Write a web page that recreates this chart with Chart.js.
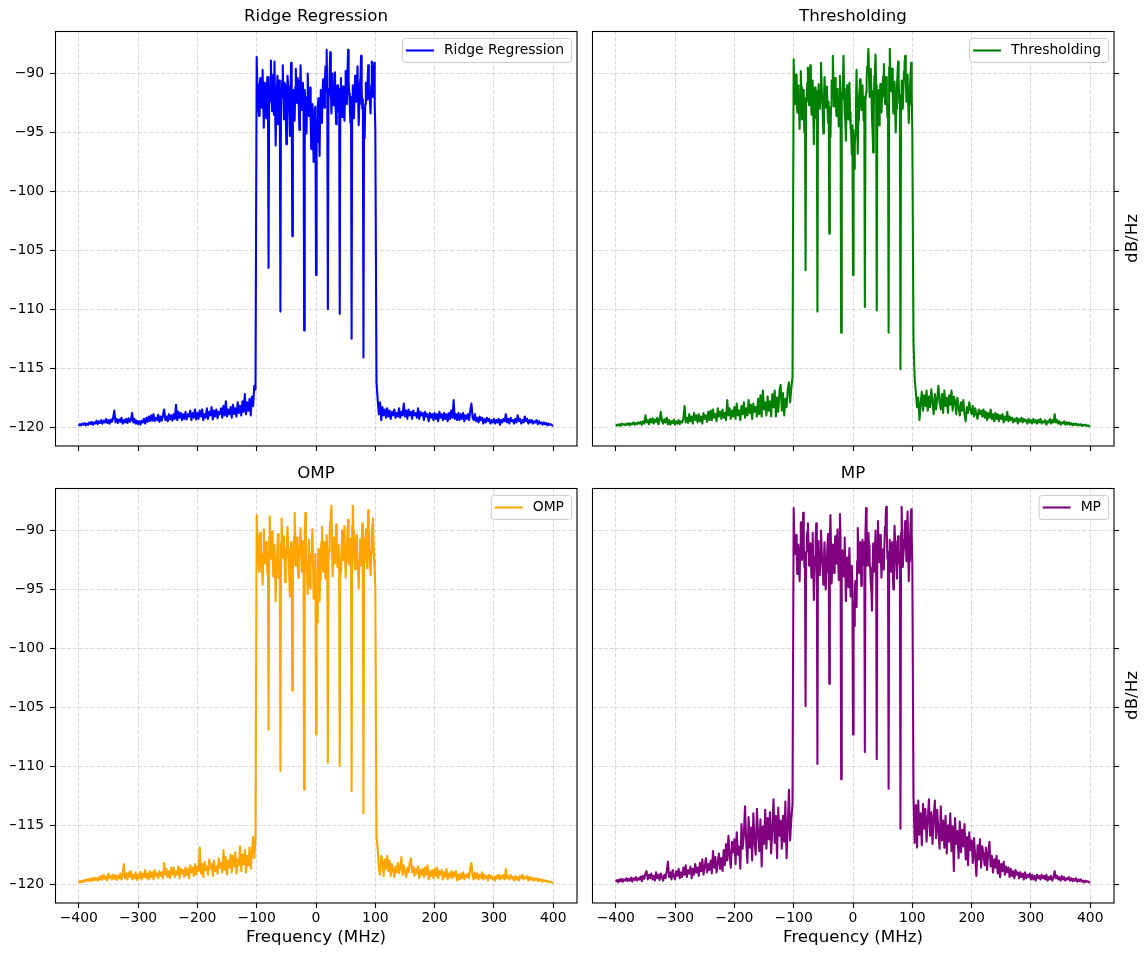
<!DOCTYPE html>
<html><head><meta charset="utf-8">
<script src="https://cdn.jsdelivr.net/npm/chart.js@4.4.1/dist/chart.umd.min.js"></script>
<style>
html,body{margin:0;padding:0;background:#fff;}
#wrap{position:relative;width:1148px;height:956px;overflow:hidden;background:#fff;}
#wrap canvas{position:absolute;left:0;top:0;pointer-events:none;}
</style></head><body>
<div id="wrap">
<canvas id="c0" width="1148" height="956"></canvas>
<canvas id="c1" width="1148" height="956"></canvas>
<canvas id="c2" width="1148" height="956"></canvas>
<canvas id="c3" width="1148" height="956"></canvas>
</div>
<script>
// ---------------- data ----------------
const freqMHz = [
-400,-398,-396,-394,-392,-390,-388,-386,-384,-382,
-380,-378,-376,-374,-372,-370,-368,-366,-364,-362,
-360,-358,-356,-354,-352,-350,-348,-346,-344,-342,
-340,-338,-336,-334,-332,-330,-328,-326,-324,-322,
-320,-318,-316,-314,-312,-310,-308,-306,-304,-302,
-300,-298,-296,-294,-292,-290,-288,-286,-284,-282,
-280,-278,-276,-274,-272,-270,-268,-266,-264,-262,
-260,-258,-256,-254,-252,-250,-248,-246,-244,-242,
-240,-238,-236,-234,-232,-230,-228,-226,-224,-222,
-220,-218,-216,-214,-212,-210,-208,-206,-204,-202,
-200,-198,-196,-194,-192,-190,-188,-186,-184,-182,
-180,-178,-176,-174,-172,-170,-168,-166,-164,-162,
-160,-158,-156,-154,-152,-150,-148,-146,-144,-142,
-140,-138,-136,-134,-132,-130,-128,-126,-124,-122,
-120,-118,-116,-114,-112,-110,-108,-106,-104,-102,
-100,-99,-98,-97,-96,-95,-94,-93,-92,-91,-90,-89,-88,-87,-86,-85,-84,-83,-82,-81,
-80,-79,-78,-77,-76,-75,-74,-73,-72,-71,-70,-69,-68,-67,-66,-65,-64,-63,-62,-61,
-60,-59,-58,-57,-56,-55,-54,-53,-52,-51,-50,-49,-48,-47,-46,-45,-44,-43,-42,-41,
-40,-39,-38,-37,-36,-35,-34,-33,-32,-31,-30,-29,-28,-27,-26,-25,-24,-23,-22,-21,
-20,-19,-18,-17,-16,-15,-14,-13,-12,-11,-10,-9,-8,-7,-6,-5,-4,-3,-2,-1,
0,1,2,3,4,5,6,7,8,9,10,11,12,13,14,15,16,17,18,19,
20,21,22,23,24,25,26,27,28,29,30,31,32,33,34,35,36,37,38,39,
40,41,42,43,44,45,46,47,48,49,50,51,52,53,54,55,56,57,58,59,
60,61,62,63,64,65,66,67,68,69,70,71,72,73,74,75,76,77,78,79,
80,81,82,83,84,85,86,87,88,89,90,91,92,93,94,95,96,97,98,99,
100,
102,104,106,108,110,112,114,116,118,120,
122,124,126,128,130,132,134,136,138,140,
142,144,146,148,150,152,154,156,158,160,
162,164,166,168,170,172,174,176,178,180,
182,184,186,188,190,192,194,196,198,200,
202,204,206,208,210,212,214,216,218,220,
222,224,226,228,230,232,234,236,238,240,
242,244,246,248,250,252,254,256,258,260,
262,264,266,268,270,272,274,276,278,280,
282,284,286,288,290,292,294,296,298,300,
302,304,306,308,310,312,314,316,318,320,
322,324,326,328,330,332,334,336,338,340,
342,344,346,348,350,352,354,356,358,360,
362,364,366,368,370,372,374,376,378,380,
382,384,386,388,390,392,394,396,398,400
];

const ridgeDb = [
-119.9,-119.75,-119.85,-119.7,-119.8,-119.65,-119.85,-119.7,-119.8,-119.6,
-119.75,-119.55,-119.8,-119.6,-119.7,-119.45,-119.75,-119.5,-119.65,-119.4,
-119.7,-119.45,-119.6,-119.3,-119.65,-119.4,-119.7,-119.35,-119.55,-119.2,
-118.6,-119.6,-119.3,-119.65,-119.35,-119.55,-119.2,-119.7,-119.4,-119.6,
-119.3,-119.65,-119.25,-119.55,-119.4,-118.8,-119.6,-119.3,-119.7,-119.45,
-119.75,-119.5,-119.8,-119.45,-119.6,-119.3,-119.7,-119.2,-119.55,-119.1,
-119.5,-119.0,-119.45,-118.9,-119.5,-119.2,-119.4,-118.95,-119.55,-119.1,
-119.45,-119.0,-118.5,-119.4,-119.1,-119.5,-118.9,-119.35,-119.0,-119.45,
-118.9,-119.3,-118.1,-119.4,-118.7,-119.2,-118.8,-119.4,-118.9,-119.3,
-118.7,-119.35,-118.9,-119.1,-118.6,-119.4,-118.8,-119.2,-118.5,-119.35,
-118.8,-119.3,-118.6,-119.1,-118.5,-119.4,-118.9,-119.2,-118.4,-119.3,
-118.7,-119.0,-118.3,-119.35,-118.6,-119.1,-118.5,-119.25,-118.7,-118.9,
-118.4,-119.2,-118.2,-119.0,-117.8,-119.1,-118.5,-118.9,-118.3,-119.2,
-118.1,-118.9,-118.4,-119.1,-117.9,-118.8,-118.2,-119.0,-117.8,-118.7,
-117.2,-118.9,-117.9,-118.6,-117.6,-119.0,-117.4,-118.2,-116.5,-116.8,
-88.6,-90.9,-91.8,-93.0,-93.6,-91.1,-90.4,-92.0,-92.9,-90.6,-89.7,-92.4,-94.6,-90.8,-91.2,-92.5,-93.8,-91.6,-90.3,-92.2,
-106.5,-91.0,-92.4,-90.3,-88.9,-92.1,-93.2,-91.3,-90.1,-93.5,-89.0,-92.6,-96.1,-93.0,-91.5,-90.2,-94.3,-92.7,-90.6,-91.4,
-110.2,-91.7,-92.0,-90.6,-89.3,-92.2,-93.9,-90.8,-91.0,-93.4,-96.0,-92.3,-90.2,-91.1,-92.8,-93.6,-95.3,-91.5,-89.1,-92.0,
-103.8,-92.6,-91.4,-93.1,-94.0,-91.2,-89.6,-92.3,-92.5,-90.4,-90.7,-92.9,-94.8,-91.6,-89.3,-92.0,-93.1,-90.8,-90.9,-92.5,
-111.8,-91.4,-92.3,-93.5,-95.1,-92.0,-90.0,-91.8,-93.6,-92.4,-91.2,-94.0,-96.4,-93.2,-92.6,-95.0,-97.5,-94.1,-93.0,-92.8,
-107.1,-93.9,-95.8,-93.0,-92.1,-94.6,-97.0,-93.3,-91.4,-92.7,-94.2,-91.6,-90.5,-92.2,-92.9,-90.7,-89.4,-91.5,-88.0,-91.9,
-110.0,-92.2,-91.3,-90.0,-88.2,-91.5,-93.4,-91.8,-90.0,-92.6,-92.7,-90.9,-89.9,-92.8,-94.3,-92.1,-91.0,-92.4,-93.2,-91.3,
-110.4,-91.9,-90.4,-92.5,-93.7,-91.6,-91.1,-92.9,-94.0,-91.4,-89.8,-91.9,-92.6,-90.3,-88.0,-90.6,-91.7,-92.8,-94.2,-92.0,
-112.5,-92.3,-91.0,-92.4,-93.8,-91.7,-90.2,-92.0,-92.4,-90.8,-89.4,-92.1,-94.4,-92.6,-90.9,-90.4,-88.5,-91.2,-93.0,-92.2,
-114.1,-93.0,-95.5,-92.6,-90.8,-92.0,-92.2,-90.6,-89.3,-91.8,-91.6,-92.4,-93.4,-91.0,-89.0,-91.2,-92.0,-90.5,-89.1,-92.7,
-94.7,
-116.2,-117.7,-118.9,-117.9,-119.4,-118.3,-119.0,-118.5,-119.2,-118.4,
-119.1,-118.6,-119.3,-118.7,-119.0,-118.5,-119.2,-118.8,-119.1,-118.4,
-119.2,-118.7,-119.0,-118.0,-119.1,-118.6,-119.3,-118.5,-119.0,-118.7,
-119.3,-118.6,-119.0,-118.8,-119.2,-118.4,-119.3,-118.7,-119.0,-118.8,
-119.4,-118.7,-119.1,-118.9,-119.5,-118.8,-119.2,-118.9,-119.4,-118.8,
-119.3,-118.9,-119.5,-118.7,-119.2,-118.9,-119.4,-118.8,-119.3,-118.9,
-119.5,-118.8,-119.3,-118.6,-119.2,-117.7,-119.3,-118.9,-119.4,-118.8,
-119.4,-118.9,-119.3,-118.8,-119.5,-119.0,-119.3,-118.9,-119.4,-118.6,
-118.0,-119.2,-119.4,-118.9,-119.5,-119.2,-119.6,-119.1,-119.4,-119.2,
-119.7,-119.3,-119.6,-119.2,-119.5,-119.3,-119.7,-119.4,-119.6,-119.3,
-119.7,-119.4,-119.6,-119.3,-119.8,-119.4,-119.6,-119.3,-119.5,-118.9,
-119.6,-119.3,-119.7,-119.2,-119.5,-119.4,-119.7,-119.3,-119.6,-119.0,
-119.5,-119.3,-119.7,-119.4,-119.6,-119.1,-119.5,-119.3,-119.7,-119.4,
-119.6,-119.4,-119.7,-119.5,-119.6,-119.4,-119.75,-119.5,-119.7,-119.6,
-119.8,-119.6,-119.75,-119.65,-119.85,-119.7,-119.8,-119.75,-119.85,-119.9
];

const thresholdingDb = [
-119.9,-119.8,-119.85,-119.75,-119.9,-119.7,-119.8,-119.75,-119.85,-119.7,
-119.8,-119.65,-119.85,-119.7,-119.75,-119.6,-119.8,-119.65,-119.75,-119.6,
-119.7,-119.55,-119.8,-119.5,-119.7,-119.0,-119.6,-119.4,-119.75,-119.3,
-119.6,-119.25,-119.7,-119.35,-119.55,-119.2,-119.75,-119.4,-118.7,-119.5,
-119.7,-119.3,-119.6,-119.2,-119.75,-119.4,-119.8,-119.5,-119.65,-119.35,
-119.8,-119.5,-119.7,-119.4,-119.75,-119.5,-119.6,-119.3,-118.2,-119.6,
-119.2,-119.65,-118.9,-119.5,-119.1,-119.7,-118.8,-119.4,-119.0,-119.6,
-118.9,-119.5,-119.1,-119.7,-118.8,-119.3,-119.0,-119.55,-118.7,-119.4,
-118.6,-119.4,-118.5,-119.2,-118.9,-119.5,-118.4,-119.1,-118.7,-119.3,
-118.5,-119.2,-118.8,-119.4,-117.7,-119.0,-118.4,-119.3,-118.6,-119.1,
-118.3,-119.3,-118.0,-119.0,-118.6,-119.4,-118.2,-118.9,-117.9,-119.2,
-118.4,-119.0,-117.7,-118.8,-118.1,-119.3,-118.0,-118.7,-118.3,-119.1,
-117.6,-118.9,-117.3,-119.1,-116.9,-118.5,-117.9,-119.0,-117.4,-118.6,
-117.8,-119.1,-117.2,-118.3,-116.9,-119.1,-117.5,-118.7,-117.0,-116.4,
-118.6,-117.1,-119.0,-117.6,-118.3,-116.8,-116.2,-117.9,-116.7,-115.8,
-88.8,-91.5,-92.6,-91.0,-90.1,-92.2,-93.3,-91.6,-91.0,-92.8,-94.7,-92.0,-89.8,-91.2,-93.9,-92.4,-91.4,-93.0,-95.0,-92.1,
-106.7,-92.4,-91.8,-90.8,-89.5,-91.6,-92.7,-90.9,-89.3,-91.9,-93.5,-92.2,-90.6,-93.4,-96.0,-92.5,-91.2,-92.0,-93.8,-91.5,
-110.2,-92.0,-90.9,-92.3,-93.0,-91.4,-89.1,-90.7,-92.4,-93.3,-95.1,-92.6,-90.3,-91.8,-92.9,-91.7,-91.1,-92.9,-94.2,-92.4,
-103.6,-93.0,-95.4,-92.8,-90.6,-91.9,-88.5,-90.6,-92.8,-91.4,-90.4,-92.3,-93.6,-92.1,-91.3,-93.0,-94.5,-92.2,-90.2,-91.6,
-112.0,-91.7,-92.1,-90.6,-88.5,-91.3,-93.4,-94.0,-95.7,-93.2,-91.0,-92.6,-93.9,-92.1,-90.8,-93.3,-94.6,-95.2,-96.9,-94.4,
-107.1,-94.8,-98.1,-96.0,-95.2,-92.6,-89.7,-93.1,-96.8,-94.0,-92.3,-91.4,-90.5,-92.2,-93.1,-91.9,-91.0,-92.6,-94.0,-92.0,
-109.8,-92.3,-91.6,-90.5,-89.4,-88.8,-87.9,-90.1,-92.0,-91.2,-89.6,-91.5,-93.8,-94.9,-96.7,-93.4,-90.2,-89.6,-88.4,-91.0,
-110.1,-91.4,-92.2,-93.0,-94.4,-92.4,-90.9,-91.8,-93.3,-92.0,-91.0,-90.2,-89.2,-90.9,-92.6,-91.6,-90.3,-92.1,-93.7,-92.7,
-112.0,-89.5,-87.9,-89.8,-91.5,-90.3,-89.6,-91.7,-93.4,-92.1,-90.7,-92.8,-95.0,-93.0,-91.2,-90.1,-89.0,-90.6,-92.5,-92.0,
-115.1,-91.8,-90.6,-91.9,-93.0,-91.2,-89.8,-89.0,-88.5,-90.4,-92.4,-91.1,-90.1,-92.3,-94.2,-92.6,-91.3,-90.0,-89.1,-91.7,
-95.0,
-112.8,-115.9,-117.1,-118.3,-117.5,-119.4,-118.0,-117.0,-118.6,-117.3,
-118.2,-116.9,-118.6,-117.4,-118.3,-116.8,-117.9,-118.9,-117.2,-118.5,
-117.6,-116.5,-117.9,-118.5,-117.2,-118.8,-116.9,-118.2,-117.5,-118.8,
-117.3,-118.1,-116.9,-118.6,-117.4,-117.8,-118.9,-117.5,-118.3,-119.0,
-117.9,-118.6,-117.7,-118.9,-119.5,-118.3,-118.8,-117.9,-118.5,-118.9,
-118.2,-119.1,-118.4,-118.9,-119.3,-118.5,-118.9,-118.6,-119.1,-118.5,
-119.2,-118.7,-119.4,-118.8,-119.2,-118.5,-119.3,-118.9,-119.5,-118.8,
-119.3,-118.9,-119.5,-119.0,-119.3,-118.9,-119.6,-119.1,-119.4,-118.7,
-119.5,-119.1,-119.4,-119.2,-119.6,-119.3,-119.5,-119.2,-119.7,-119.3,
-119.5,-119.2,-119.6,-119.3,-119.5,-119.4,-119.7,-119.3,-119.6,-119.4,
-119.7,-119.3,-119.6,-119.4,-119.7,-119.4,-119.6,-119.3,-119.7,-119.5,
-119.6,-119.4,-119.8,-119.5,-119.6,-119.3,-119.7,-119.4,-119.6,-118.9,
-119.6,-119.4,-119.7,-119.5,-119.8,-119.6,-119.7,-119.5,-119.8,-119.6,
-119.75,-119.6,-119.8,-119.65,-119.85,-119.7,-119.8,-119.7,-119.85,-119.75,
-119.85,-119.75,-119.9,-119.8,-119.85,-119.8,-119.9,-119.85,-119.9,-119.95
];

const ompDb = [
-119.9,-119.75,-119.85,-119.7,-119.8,-119.65,-119.75,-119.6,-119.7,-119.55,
-119.75,-119.5,-119.7,-119.45,-119.65,-119.5,-119.7,-119.4,-119.6,-119.3,
-119.65,-119.2,-119.55,-119.35,-119.7,-119.1,-119.5,-119.3,-119.6,-119.2,
-119.55,-119.25,-119.65,-119.3,-119.5,-119.1,-119.6,-119.2,-118.3,-119.5,
-119.1,-119.6,-119.0,-119.4,-118.9,-119.6,-119.2,-119.5,-119.0,-119.65,
-119.2,-119.5,-118.95,-119.6,-119.1,-119.4,-118.8,-119.5,-119.1,-119.6,
-118.9,-119.4,-119.0,-119.6,-118.8,-119.3,-119.1,-119.5,-118.9,-119.3,
-119.0,-119.5,-118.2,-119.2,-118.7,-119.4,-118.9,-119.5,-118.6,-119.2,
-118.6,-119.4,-118.9,-119.2,-118.5,-119.5,-118.7,-119.1,-118.8,-119.4,
-118.6,-119.2,-118.7,-119.5,-118.4,-119.0,-118.6,-119.3,-118.3,-119.2,
-118.5,-118.9,-116.9,-119.1,-118.3,-119.4,-118.1,-118.8,-118.5,-119.2,
-117.9,-118.7,-118.3,-119.3,-118.0,-118.9,-118.5,-119.1,-117.8,-118.6,
-118.2,-119.0,-117.1,-118.8,-117.7,-119.2,-118.0,-118.6,-117.5,-119.0,
-117.6,-118.5,-117.3,-119.1,-117.9,-118.4,-116.8,-118.9,-117.5,-118.3,
-117.1,-119.0,-117.6,-118.4,-116.9,-118.7,-117.3,-116.0,-117.8,-116.2,
-88.7,-90.4,-91.3,-92.5,-93.5,-91.8,-90.2,-91.4,-92.6,-93.3,-94.6,-92.0,-89.9,-91.1,-92.8,-92.0,-91.0,-92.3,-93.7,-91.9,
-106.9,-90.6,-88.8,-90.7,-92.4,-91.2,-90.1,-92.1,-93.9,-92.5,-91.2,-93.4,-96.0,-94.0,-92.7,-91.4,-90.3,-92.0,-94.1,-92.6,
-110.4,-91.1,-89.0,-90.8,-92.3,-91.6,-90.5,-92.3,-94.4,-92.7,-91.6,-90.5,-89.7,-91.5,-93.2,-94.1,-95.6,-93.0,-91.0,-92.2,
-103.6,-93.4,-92.8,-90.5,-88.5,-91.0,-93.0,-91.9,-90.6,-92.4,-94.0,-92.6,-91.4,-90.7,-89.8,-91.9,-93.5,-92.2,-90.9,-91.6,
-112.0,-90.2,-88.5,-90.9,-92.7,-93.8,-95.4,-92.6,-90.8,-92.9,-94.9,-93.1,-92.0,-91.0,-89.9,-92.7,-95.8,-94.3,-93.4,-92.0,
-107.3,-95.0,-97.8,-93.9,-91.6,-93.6,-96.0,-94.2,-92.4,-91.0,-89.7,-91.8,-93.5,-92.4,-91.0,-92.6,-94.1,-92.0,-90.4,-91.7,
-109.7,-92.6,-91.8,-90.3,-89.2,-88.6,-87.9,-91.0,-93.9,-92.2,-90.6,-91.7,-92.8,-91.0,-89.5,-91.3,-93.1,-92.4,-91.2,-92.5,
-110.0,-92.4,-93.6,-91.8,-90.0,-91.2,-92.5,-91.0,-89.6,-92.2,-94.0,-92.7,-91.4,-90.2,-89.1,-91.0,-92.9,-91.9,-90.7,-92.3,
-112.1,-89.6,-87.9,-90.0,-91.9,-92.8,-93.3,-91.7,-90.4,-91.5,-92.6,-93.5,-94.9,-92.6,-90.8,-91.9,-93.0,-91.0,-89.4,-91.8,
-114.0,-92.7,-91.5,-90.6,-89.9,-91.5,-93.2,-90.7,-88.3,-90.0,-91.7,-92.6,-93.8,-92.0,-90.2,-89.5,-89.0,-90.9,-92.5,-93.4,
-94.9,
-116.0,-117.0,-118.6,-119.2,-117.6,-118.1,-119.3,-117.9,-118.7,-117.6,
-118.9,-118.0,-119.3,-118.3,-118.8,-119.4,-118.5,-119.0,-118.2,-119.1,
-118.6,-117.7,-119.2,-118.4,-118.9,-119.4,-118.6,-119.0,-118.2,-117.8,
-119.0,-118.5,-119.3,-118.7,-119.1,-118.5,-119.5,-118.8,-119.2,-118.7,
-119.4,-118.6,-119.2,-118.4,-119.6,-118.9,-119.3,-118.8,-119.5,-118.7,
-119.3,-118.6,-119.5,-118.9,-119.2,-118.8,-119.6,-119.0,-119.4,-118.7,
-119.6,-119.1,-119.4,-118.9,-119.5,-119.0,-119.3,-118.9,-119.7,-119.2,
-119.6,-119.1,-119.5,-119.0,-119.6,-119.2,-119.4,-119.1,-119.5,-118.6,
-118.2,-119.3,-119.6,-119.0,-119.5,-119.1,-119.6,-119.2,-119.5,-119.0,
-119.6,-119.2,-119.5,-119.3,-119.7,-119.2,-119.5,-119.3,-119.6,-119.4,
-119.7,-119.3,-119.5,-119.2,-119.6,-119.3,-119.5,-119.2,-119.6,-118.7,
-119.5,-119.3,-119.6,-119.2,-119.5,-119.4,-119.7,-119.3,-119.6,-119.4,
-119.7,-119.3,-119.5,-119.2,-119.6,-119.4,-119.5,-119.3,-119.7,-119.4,
-119.6,-119.45,-119.7,-119.5,-119.65,-119.5,-119.75,-119.55,-119.7,-119.6,
-119.8,-119.65,-119.75,-119.7,-119.8,-119.75,-119.85,-119.8,-119.85,-119.9
];

const mpDb = [
-119.8,-119.65,-119.85,-119.6,-119.75,-119.55,-119.8,-119.6,-119.7,-119.5,
-119.75,-119.55,-119.7,-119.45,-119.8,-119.5,-119.65,-119.4,-119.7,-119.5,
-119.6,-119.35,-119.75,-119.3,-119.55,-119.1,-118.9,-119.6,-119.2,-119.5,
-119.1,-119.6,-119.3,-119.7,-119.0,-119.5,-119.2,-119.65,-119.1,-119.4,
-119.7,-119.2,-119.5,-118.9,-118.1,-119.4,-119.0,-119.6,-118.8,-119.3,
-119.6,-118.9,-119.3,-118.7,-119.5,-119.0,-119.4,-118.6,-119.2,-118.4,
-119.4,-118.8,-119.1,-118.5,-119.5,-118.7,-119.2,-118.3,-119.0,-118.6,
-119.3,-118.2,-118.9,-117.9,-119.2,-118.5,-117.8,-119.0,-118.3,-118.8,
-118.0,-119.1,-117.2,-118.6,-117.7,-119.0,-118.2,-117.4,-118.7,-117.8,
-118.9,-117.1,-118.4,-116.6,-118.0,-115.9,-117.6,-118.6,-116.4,-117.3,
-116.2,-118.3,-115.6,-117.5,-116.8,-118.7,-114.9,-117.0,-115.8,-113.4,
-116.5,-118.2,-114.3,-116.9,-115.2,-118.0,-114.0,-116.4,-117.5,-113.6,
-115.8,-117.2,-114.5,-118.5,-115.1,-116.6,-113.7,-117.0,-114.4,-116.2,
-113.9,-117.4,-115.3,-112.8,-116.5,-114.2,-117.8,-113.5,-115.9,-114.6,
-117.0,-114.2,-116.4,-113.0,-117.8,-115.2,-112.0,-116.3,-114.5,-113.2,
-88.1,-90.6,-92.0,-91.3,-90.4,-92.0,-93.7,-92.2,-91.2,-92.8,-94.3,-91.5,-89.3,-91.0,-92.5,-90.4,-88.5,-91.2,-93.1,-91.9,
-104.9,-91.8,-90.6,-90.1,-89.4,-91.0,-93.0,-92.3,-91.1,-92.6,-94.0,-92.0,-90.2,-93.3,-95.9,-93.8,-92.2,-90.7,-89.4,-91.3,
-109.8,-90.9,-91.3,-92.4,-93.8,-91.9,-90.0,-91.2,-92.7,-93.4,-94.6,-92.6,-91.0,-93.2,-95.0,-93.5,-92.4,-91.1,-90.3,-91.7,
-103.0,-90.4,-88.7,-91.6,-94.5,-92.8,-91.2,-92.5,-93.6,-91.9,-90.5,-91.4,-92.8,-91.0,-89.9,-92.3,-94.2,-91.2,-88.6,-90.7,
-111.1,-92.0,-91.7,-92.6,-93.9,-92.1,-90.6,-93.4,-96.0,-94.0,-92.3,-93.3,-94.8,-92.7,-91.5,-93.9,-95.6,-94.1,-93.0,-94.6,
-107.3,-96.2,-98.1,-95.4,-94.3,-95.8,-96.5,-92.6,-89.8,-91.5,-93.6,-92.1,-91.0,-93.0,-94.7,-92.5,-90.8,-91.7,-92.9,-91.0,
-108.8,-90.3,-88.1,-90.6,-93.0,-91.4,-90.2,-91.3,-92.6,-93.2,-94.4,-95.1,-96.8,-93.6,-91.1,-92.3,-93.5,-91.6,-90.0,-92.4,
-109.4,-91.0,-89.2,-90.9,-92.7,-91.6,-90.4,-92.2,-94.0,-92.6,-91.6,-92.4,-93.3,-91.2,-89.7,-88.9,-88.0,-90.1,-92.4,-91.8,
-111.9,-92.0,-90.8,-92.2,-93.5,-92.4,-91.0,-93.1,-95.0,-92.0,-89.6,-90.9,-92.2,-93.0,-94.1,-92.5,-90.5,-91.4,-92.8,-91.9,
-115.3,-90.2,-88.0,-90.8,-93.1,-92.0,-91.4,-90.1,-89.2,-90.7,-92.6,-90.3,-88.4,-91.5,-94.3,-92.6,-90.9,-89.4,-88.2,-90.5,
-93.0,
-112.6,-116.5,-113.3,-116.9,-112.9,-115.8,-114.0,-116.7,-113.2,-115.3,
-113.6,-116.4,-114.5,-112.8,-115.9,-113.9,-116.6,-114.3,-112.9,-116.1,
-113.7,-115.5,-117.0,-113.4,-116.3,-114.6,-116.9,-114.2,-117.4,-115.0,
-116.4,-114.0,-117.2,-115.1,-118.9,-114.4,-116.6,-115.5,-117.8,-114.7,
-117.3,-115.4,-116.8,-114.9,-117.9,-116.0,-118.4,-115.6,-117.1,-116.3,
-118.2,-116.1,-117.6,-119.3,-116.7,-117.9,-116.2,-118.6,-116.8,-117.5,
-118.4,-116.9,-118.8,-117.3,-116.4,-118.5,-117.6,-119.0,-117.9,-118.6,
-117.6,-119.1,-118.0,-119.4,-118.3,-118.9,-118.1,-119.2,-118.5,-119.0,
-118.6,-119.4,-118.7,-119.3,-118.9,-119.5,-118.8,-119.2,-119.0,-119.5,
-119.0,-119.4,-119.1,-119.6,-119.0,-119.5,-119.2,-119.4,-119.1,-119.6,
-119.2,-119.6,-119.3,-119.7,-119.2,-119.5,-119.3,-119.6,-119.2,-119.5,
-119.3,-119.6,-119.2,-119.7,-119.4,-119.6,-119.3,-119.7,-119.4,-118.9,
-119.5,-119.3,-119.6,-119.4,-119.7,-119.3,-119.6,-119.4,-119.7,-119.5,
-119.6,-119.4,-119.7,-119.5,-119.75,-119.55,-119.7,-119.5,-119.8,-119.6,
-119.75,-119.6,-119.8,-119.7,-119.85,-119.7,-119.8,-119.75,-119.85,-119.85
];

const xTickValues = [-400,-300,-200,-100,0,100,200,300,400];
const yTickValues = [-120,-115,-110,-105,-100,-95,-90];
const panelTitles = ['Ridge Regression','Thresholding','OMP','MP'];
const xAxisLabel = 'Frequency (MHz)';
const yAxisLabel = 'dB/Hz';

// ---------------- rendering ----------------
[ridgeDb, thresholdingDb, ompDb, mpDb].forEach((s,i)=>{
  if (s.length !== freqMHz.length) throw new Error('length mismatch series '+i+': '+s.length+' vs '+freqMHz.length);
});

const FONT = "'DejaVu Sans', 'Liberation Sans', sans-serif";
Chart.defaults.font.family = FONT;
Chart.defaults.color = '#000';

const W = 1148, H = 956;
const fmt = v => (v < 0 ? '\u2212' + Math.abs(v) : String(v));

const panels = [
  {canvas:'c0', series: ridgeDb,        title: panelTitles[0], color:'#0000ff', area:{l:55, t:31, r:577, b:446},  left:true,  bottom:false},
  {canvas:'c1', series: thresholdingDb, title: panelTitles[1], color:'#008000', area:{l:592,t:31, r:1114,b:446}, left:false, bottom:false},
  {canvas:'c2', series: ompDb,          title: panelTitles[2], color:'#ffa500', area:{l:55, t:488,r:577, b:903}, left:true,  bottom:true},
  {canvas:'c3', series: mpDb,           title: panelTitles[3], color:'#800080', area:{l:592,t:488,r:1114,b:903}, left:false, bottom:true}
];

const gridColor = 'rgba(176,176,176,0.6)';
const gridDash = [4.1, 1.8];

function roundRect(ctx, x, y, w, h, r) {
  ctx.beginPath();
  ctx.moveTo(x + r, y);
  ctx.lineTo(x + w - r, y);
  ctx.arcTo(x + w, y, x + w, y + r, r);
  ctx.lineTo(x + w, y + h - r);
  ctx.arcTo(x + w, y + h, x + w - r, y + h, r);
  ctx.lineTo(x + r, y + h);
  ctx.arcTo(x, y + h, x, y + h - r, r);
  ctx.lineTo(x, y + r);
  ctx.arcTo(x, y, x + r, y, r);
  ctx.closePath();
}

panels.forEach(p => {
  const yW = p.left ? 45 : 20;
  const xH = p.bottom ? 45 : 10;
  const pad = {
    left: p.left ? p.area.l - yW : p.area.l,
    right: p.left ? W - p.area.r : W - p.area.r - yW,
    top: p.area.t - 24,
    bottom: H - p.area.b - xH
  };
  const decor = {
    id: 'decor_' + p.canvas,
    afterDatasetsDraw(chart) {
      const ctx = chart.ctx, ca = chart.chartArea;
      ctx.save();
      ctx.strokeStyle = '#000';
      ctx.lineWidth = 1.1;
      ctx.setLineDash([]);
      ctx.strokeRect(ca.left + 0.5, ca.top + 0.5, ca.right - ca.left - 0.5, ca.bottom - ca.top - 0.5);
      ctx.font = '13.9px ' + FONT;
      const tw = ctx.measureText(p.title).width;
      const bw = 4 + 28 + 10 + tw + 7;
      const bh = 24;
      const bx = ca.right - 6 - bw;
      const by = ca.top + 7;
      roundRect(ctx, bx + 0.5, by + 0.5, bw, bh, 3);
      ctx.fillStyle = 'rgba(255,255,255,0.8)';
      ctx.fill();
      ctx.strokeStyle = '#cccccc';
      ctx.lineWidth = 1;
      ctx.stroke();
      ctx.beginPath();
      ctx.moveTo(bx + 4, by + bh / 2 + 0.5);
      ctx.lineTo(bx + 32, by + bh / 2 + 0.5);
      ctx.strokeStyle = p.color;
      ctx.lineWidth = 2.08;
      ctx.stroke();
      ctx.fillStyle = '#000';
      ctx.textAlign = 'left';
      ctx.textBaseline = 'middle';
      ctx.fillText(p.title, bx + 42, by + bh / 2 + 0.5);
      if (!p.left) {
        ctx.translate(1133, (ca.top + ca.bottom) / 2);
        ctx.rotate(-Math.PI / 2);
        ctx.font = '16.67px ' + FONT;
        ctx.textAlign = 'center';
        ctx.textBaseline = 'middle';
        ctx.fillText(yAxisLabel, 0, 0);
      }
      ctx.restore();
    }
  };

  new Chart(document.getElementById(p.canvas), {
    type: 'line',
    data: {
      datasets: [{
        label: p.title,
        data: freqMHz.map((f, i) => ({x: f, y: p.series[i]})),
        borderColor: p.color,
        backgroundColor: p.color,
        borderWidth: 2.08,
        pointRadius: 0,
        pointHoverRadius: 0,
        fill: false,
        tension: 0,
        borderJoinStyle: 'round'
      }]
    },
    options: {
      responsive: false,
      animation: false,
      devicePixelRatio: 1,
      events: [],
      layout: {padding: pad},
      plugins: {
        legend: {display: false},
        tooltip: {enabled: false},
        title: {
          display: true,
          text: p.title,
          fullSize: false,
          color: '#000',
          font: {size: 16.67, weight: 'normal', family: FONT},
          padding: {top: 0, bottom: 4}
        }
      },
      scales: {
        x: {
          type: 'linear',
          position: 'bottom',
          min: -440, max: 440,
          afterBuildTicks: s => { s.ticks = xTickValues.map(v => ({value: v})); },
          afterFit: s => { s.height = xH; },
          ticks: {
            display: p.bottom,
            callback: v => fmt(v),
            font: {size: 13.9, family: FONT},
            color: '#000',
            padding: 2,
            maxRotation: 0,
            autoSkip: false
          },
          grid: {
            color: gridColor, lineWidth: 0.8,
            drawTicks: true, tickLength: 5, tickColor: '#000', tickWidth: 1.1, tickBorderDash: []
          },
          border: {display: false, dash: gridDash},
          title: {
            display: p.bottom,
            text: xAxisLabel,
            color: '#000',
            font: {size: 16.67, family: FONT},
            padding: {top: 0, bottom: 0}
          }
        },
        y: {
          type: 'linear',
          position: p.left ? 'left' : 'right',
          min: -121.6, max: -86.4,
          afterBuildTicks: s => { s.ticks = yTickValues.map(v => ({value: v})); },
          afterFit: s => { s.width = yW; },
          ticks: {
            display: p.left,
            callback: v => fmt(v),
            font: {size: 13.9, family: FONT},
            color: '#000',
            padding: 6
          },
          grid: {
            color: gridColor, lineWidth: 0.8,
            drawTicks: true, tickLength: 5, tickColor: '#000', tickWidth: 1.1, tickBorderDash: []
          },
          border: {display: false, dash: gridDash}
        }
      }
    },
    plugins: [decor]
  });
});
</script>
</body></html>
